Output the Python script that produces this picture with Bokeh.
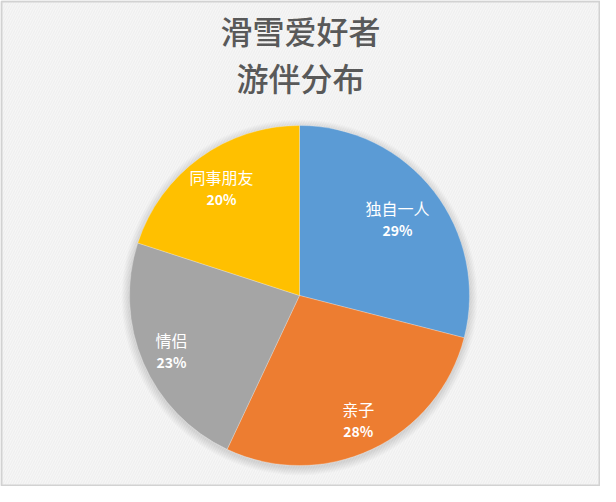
import math
from bokeh.plotting import figure
from bokeh.models import Range1d, ColumnDataSource
from bokeh.core.properties import value
from bokeh.embed import file_html
from bokeh.resources import INLINE

# ---- data ----
title_lines = ["滑雪爱好者", "游伴分布"]
categories = ["独自一人", "亲子", "情侣", "同事朋友"]
shares = [29, 28, 23, 20]
colors = ["#5B9BD5", "#ED7D31", "#A5A5A5", "#FFC000"]

# ---- layout / style ----
W, H = 600, 486
CX, CY, R = 299, 191, 170
LABEL_RADIUS = [0.73, 0.81, 0.82, 0.78]   # fraction of R for each data label
FONT = value("Noto Sans CJK SC")
TITLE_FONT = value("'Noto Sans CJK SC Medium', 'Noto Sans CJK SC'")

p = figure(width=W, height=H, x_range=Range1d(0, W), y_range=Range1d(0, H),
           output_backend="svg", toolbar_location=None, min_border=0,
           x_axis_location=None, y_axis_location=None)
p.grid.visible = False
p.background_fill_color = "#f6f6f6"
p.border_fill_color = "#ffffff"
p.outline_line_color = None

# textured background
p.quad(left=[0], right=[W], bottom=[0], top=[H], fill_color="#f6f6f6", line_color=None,
       hatch_pattern="/", hatch_color="#e8e8e8", hatch_scale=5, hatch_weight=0.6)
# chart border
p.quad(left=[1], right=[W - 1], bottom=[1], top=[H - 1], fill_color=None,
       line_color="#d2d2d2", line_width=2)

# soft shadow around the pie
for k in range(1, 9):
    p.circle(x=[CX], y=[CY - 2], radius=R + k, fill_color="#000000", fill_alpha=0.014,
             line_color=None)

total = float(sum(shares))
starts, ends, lx, ly, pcts = [], [], [], [], []
cum = 0.0
for v, fr in zip(shares, LABEL_RADIUS):
    a0 = math.pi / 2 - 2 * math.pi * cum / total
    cum += v
    a1 = math.pi / 2 - 2 * math.pi * cum / total
    starts.append(a0)
    ends.append(a1)
    mid = (a0 + a1) / 2
    lx.append(CX + fr * R * math.cos(mid))
    ly.append(CY + fr * R * math.sin(mid))
    pcts.append(f"{v}%")

src = ColumnDataSource(dict(start=starts, end=ends, color=colors, cat=categories,
                            pct=pcts, lx=lx, ly_name=[y + 11 for y in ly],
                            ly_pct=[y - 11 for y in ly]))

p.wedge(x=CX, y=CY, radius=R, start_angle="start", end_angle="end", direction="clock",
        fill_color="color", line_color="#ffffff", line_width=0.5, line_alpha=0.5,
        source=src)

p.text(x="lx", y="ly_name", text="cat", source=src, text_color="#ffffff",
       text_font=FONT, text_font_size="16px", text_align="center", text_baseline="middle")
p.text(x="lx", y="ly_pct", text="pct", source=src, text_color="#ffffff",
       text_font=FONT, text_font_size="14px", text_font_style="bold",
       text_align="center", text_baseline="middle")

# title
p.text(x=[W / 2, W / 2], y=[457, 410], text=title_lines, text_color="#595959",
       text_font=TITLE_FONT, text_font_size="32px", text_align="center",
       text_baseline="middle")

open("out.html", "w").write(file_html(p, INLINE))
